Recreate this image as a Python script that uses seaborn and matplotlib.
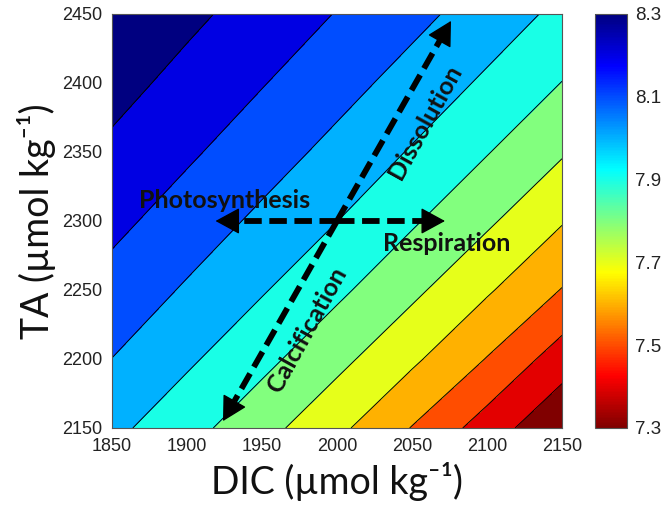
import numpy as np
import pandas as pd
import matplotlib
matplotlib.use("Agg")
import matplotlib.pyplot as plt
import seaborn as sns
from matplotlib.colors import Normalize, LinearSegmentedColormap
from matplotlib.cm import ScalarMappable
from matplotlib.ticker import FixedLocator

# ---------------- data ----------------
dic = [1850, 1900, 1950, 2000, 2050, 2100, 2150]          # x grid (umol/kg)
ta = [2150, 2200, 2250, 2300, 2350, 2400, 2450]           # y grid (umol/kg)
ph_ta2150 = [8.025, 7.935, 7.835, 7.724, 7.596, 7.454, 7.310]
ph_ta2200 = [8.099, 8.016, 7.927, 7.828, 7.718, 7.596, 7.450]
ph_ta2250 = [8.164, 8.089, 8.008, 7.920, 7.822, 7.712, 7.596]
ph_ta2300 = [8.225, 8.154, 8.080, 8.001, 7.912, 7.816, 7.707]
ph_ta2350 = [8.281, 8.215, 8.145, 8.072, 7.992, 7.905, 7.810]
ph_ta2400 = [8.334, 8.270, 8.205, 8.136, 8.063, 7.984, 7.898]
ph_ta2450 = [8.383, 8.322, 8.260, 8.196, 8.128, 8.055, 7.976]

levels = [7.3, 7.4, 7.5, 7.6, 7.7, 7.8, 7.9, 8.0, 8.1, 8.2, 8.3, 8.4]
cbar_ticks = [7.3, 7.5, 7.7, 7.9, 8.1, 8.3]
cbar_minor = [7.4, 7.6, 7.8, 8.0, 8.2]
x_ticks = [1850, 1900, 1950, 2000, 2050, 2100, 2150]
y_ticks = [2150, 2200, 2250, 2300, 2350, 2400, 2450]

# process vectors (DIC, TA)
center = (2000, 2300)
photosynthesis_tip = (1919, 2300)
respiration_tip = (2072, 2300)
calcification_tip = (1924, 2155)
dissolution_tip = (2076, 2445)

labels = ["Photosynthesis", "Respiration", "Dissolution", "Calcification"]
label_x = [1925, 2073, 2059, 1980]
label_y = [2315, 2284, 2372, 2221]
label_rot = [0, 0, 61, 61]

# ---------------- figure ----------------
sns.set_theme(style="ticks")
plt.rcParams["font.family"] = ["Liberation Sans", "DejaVu Sans"]

grid = pd.DataFrame([ph_ta2150, ph_ta2200, ph_ta2250, ph_ta2300,
                     ph_ta2350, ph_ta2400, ph_ta2450], index=ta, columns=dic)

fig = plt.figure(figsize=(6.65, 5.15), dpi=100)
W, H = 665, 515
ax = fig.add_axes([112 / W, 1 - 428 / H, 450 / W, 414 / H])
cax = fig.add_axes([595 / W, 1 - 428 / H, 32 / W, 414 / H])

# MATLAB-style jet, reversed (high pH = dark blue)
jet_ml = LinearSegmentedColormap("jet_ml", {
    "red":   [(0, 0, 0), (3 / 8, 0, 0), (5 / 8, 1, 1), (7 / 8, 1, 1), (1, 0.5, 0.5)],
    "green": [(0, 0, 0), (1 / 8, 0, 0), (3 / 8, 1, 1), (5 / 8, 1, 1), (7 / 8, 0, 0), (1, 0, 0)],
    "blue":  [(0, 0.5, 0.5), (1 / 8, 1, 1), (3 / 8, 1, 1), (5 / 8, 0, 0), (1, 0, 0)],
}, N=256)
cmap = jet_ml.reversed()
norm = Normalize(vmin=7.3, vmax=8.3)
band_colors = [cmap(norm(l)) for l in levels[:-1]]

X, Y = np.meshgrid(grid.columns.values, grid.index.values)
ax.contourf(X, Y, grid.values, levels=levels, colors=band_colors)
ax.contour(X, Y, grid.values, levels=levels[1:-1], colors="black", linewidths=0.7)

ax.set_xlim(1850, 2150)
ax.set_ylim(2150, 2450)
ax.set_xticks(x_ticks)
ax.set_yticks(y_ticks)
ax.tick_params(direction="in", length=4, width=0.6, top=True, right=True,
               labelsize=13, labelcolor="#222222", color="#444444", pad=7)
for s in ax.spines.values():
    s.set_linewidth(0.8)
    s.set_color("#555555")

lab_font = ["Lato", "DejaVu Sans"]
ax.set_xlabel("DIC (µmol kg⁻¹)", fontsize=27, family=lab_font, labelpad=5,
              color="#111111")
ax.set_ylabel("TA (µmol kg⁻¹)", fontsize=27, family=lab_font, labelpad=4,
              color="#111111")

# dashed arrows
dash = (0, (3.0, 1.3))
for tip in [photosynthesis_tip, respiration_tip, calcification_tip, dissolution_tip]:
    ax.plot([center[0], tip[0] + 0.1 * (center[0] - tip[0])],
            [center[1], tip[1] + 0.1 * (center[1] - tip[1])],
            color="black", lw=4.2, ls=dash, solid_capstyle="butt",
            dash_capstyle="butt")
    ax.annotate("", xy=tip,
                xytext=(tip[0] + 0.12 * (center[0] - tip[0]),
                        tip[1] + 0.12 * (center[1] - tip[1])),
                arrowprops=dict(arrowstyle="-|>,head_length=0.55,head_width=0.3",
                                mutation_scale=28, color="black", lw=1,
                                shrinkA=0, shrinkB=0))

for t, x, y, r in zip(labels, label_x, label_y, label_rot):
    ax.text(x, y, t, fontsize=18, fontweight="bold", family="Lato",
            ha="center", va="center", rotation=r, rotation_mode="anchor",
            color="#111111")

# colorbar
cb = fig.colorbar(ScalarMappable(norm=norm, cmap=cmap), cax=cax, ticks=cbar_ticks)
cb.ax.yaxis.set_minor_locator(FixedLocator(cbar_minor))
cb.ax.tick_params(which="both", direction="in", length=3, width=0.6,
                  labelsize=13.5, labelcolor="#222222", color="#444444", pad=6)
cb.ax.set_yticklabels([f"{t:.1f}" for t in cbar_ticks])
cb.outline.set_linewidth(0.8)
cb.outline.set_edgecolor("#555555")

fig.savefig("out.png", dpi=100)
